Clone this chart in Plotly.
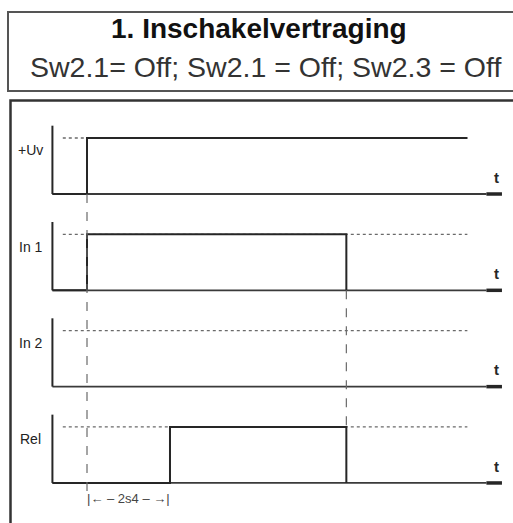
import plotly.graph_objects as go

# ---------------- data ----------------
title = "1. Inschakelvertraging"
subtitle = "Sw2.1= Off; Sw2.1 = Off; Sw2.3 = Off"
signal_names = ["+Uv", "In 1", "In 2", "Rel"]
axis_label = "t"
delay_label = "|\u2190 \u2013 2s4 \u2013 \u2192|"

# waveforms: switching times and logic states (time units)
uv_t = [-1.0, 0.0, 0.0, 11.0]
uv_s = [0, 0, 1, 1]
in1_t = [-1.0, 0.0, 0.0, 7.5, 7.5]
in1_s = [0, 0, 1, 1, 0]
in2_t = [-1.0]
in2_s = [0]
rel_t = [-1.0, 2.4, 2.4, 7.5, 7.5]
rel_s = [0, 0, 1, 1, 0]
waves_t = [uv_t, in1_t, in2_t, rel_t]
waves_s = [uv_s, in1_s, in2_s, rel_s]

t_start = -1.0      # time axis origin (vertical axis)
t_ref_end = 11.0    # end of the dotted "high" reference level
t_axis_end = 12.0   # end of time axis arrow
delay_start, delay_end = 0.0, 2.4
release_t = 7.5

# ---------------- layout geometry ----------------
W, H = 513, 523
X0_PX, PX_PER_T = 87.0, 34.58
Y0_PX, PX_PER_LVL = 194.0, 56.0
CH_STEP = 1.72
xr = [(0 - X0_PX) / PX_PER_T, (W - X0_PX) / PX_PER_T]
yr = [(Y0_PX - H) / PX_PER_LVL, (Y0_PX - 0) / PX_PER_LVL]

def py(px):
    return (Y0_PX - px) / PX_PER_LVL

INK = "#262626"
GREY = "#6a6a6a"

fig = go.Figure()

for i, name in enumerate(signal_names):
    base = -i * CH_STEP
    # dotted reference "high" level
    fig.add_trace(go.Scatter(x=[-0.7, t_ref_end], y=[base + 1, base + 1], mode="lines",
                             line=dict(color=GREY, width=1.3, dash="dot"), hoverinfo="skip"))
    # time axis baseline
    fig.add_trace(go.Scatter(x=[t_start, t_axis_end - 0.45], y=[base, base], mode="lines",
                             line=dict(color="#3a3a3a", width=1.8), hoverinfo="skip"))
    fig.add_trace(go.Scatter(x=[t_axis_end - 0.45, t_axis_end], y=[base, base], mode="lines",
                             line=dict(color=INK, width=3.5), hoverinfo="skip"))
    # vertical axis
    fig.add_trace(go.Scatter(x=[t_start, t_start], y=[base, base + 1.22], mode="lines",
                             line=dict(color=INK, width=2), hoverinfo="skip"))
    # waveform
    fig.add_trace(go.Scatter(x=waves_t[i], y=[base + s for s in waves_s[i]], mode="lines",
                             line=dict(color=INK, width=2), hoverinfo="skip"))
    # labels
    fig.add_annotation(x=-1.62, y=base + 0.78, text=name, showarrow=False,
                       font=dict(family="Liberation Sans Narrow, Arial", size=14, color="#222"),
                       xanchor="center", yanchor="middle")
    fig.add_annotation(x=11.85, y=base + 0.3, text="<b>" + axis_label + "</b>", showarrow=False,
                       font=dict(family="Liberation Sans, Arial", size=15, color=INK),
                       xanchor="center", yanchor="middle")

# dashed guide lines
fig.add_trace(go.Scatter(x=[delay_start, delay_start], y=[0, py(495)], mode="lines",
                         line=dict(color=GREY, width=1.2, dash="dash"), hoverinfo="skip"))
fig.add_trace(go.Scatter(x=[release_t, release_t], y=[-CH_STEP, -3 * CH_STEP + 1], mode="lines",
                         line=dict(color=GREY, width=1.2, dash="dash"), hoverinfo="skip"))
fig.add_annotation(x=(delay_start + delay_end) / 2, y=py(498), text=delay_label, showarrow=False,
                   font=dict(family="Liberation Sans Narrow, Arial", size=13, color="#444"),
                   xanchor="center", yanchor="middle")

# boxes
fig.add_shape(type="rect", xref="paper", yref="paper", x0=8 / W, x1=1.02, y0=1 - 91 / H, y1=1 - 12 / H,
              line=dict(color="#555", width=2))
fig.add_shape(type="rect", xref="paper", yref="paper", x0=10.5 / W, x1=1.02, y0=-0.05, y1=1 - 100.5 / H,
              line=dict(color="#333", width=2.5))

# titles
fig.add_annotation(xref="paper", yref="paper", x=259 / W, y=1 - 29 / H, text="<b>" + title + "</b>",
                   showarrow=False, font=dict(family="Liberation Sans, Arial", size=28, color="#111"),
                   xanchor="center", yanchor="middle")
fig.add_annotation(xref="paper", yref="paper", x=265 / W, y=1 - 67 / H, text=subtitle,
                   showarrow=False, font=dict(family="Liberation Sans, Arial", size=28.5, color="#333"),
                   xanchor="center", yanchor="middle")

fig.update_layout(width=W, height=H, margin=dict(l=0, r=0, t=0, b=0),
                  paper_bgcolor="white", plot_bgcolor="white", showlegend=False,
                  xaxis=dict(range=xr, visible=False, fixedrange=True),
                  yaxis=dict(range=yr, visible=False, fixedrange=True))

fig.write_html("out.html", config={"displayModeBar": False},
               post_script="document.body.style.margin='0';document.body.style.overflow='hidden';")
